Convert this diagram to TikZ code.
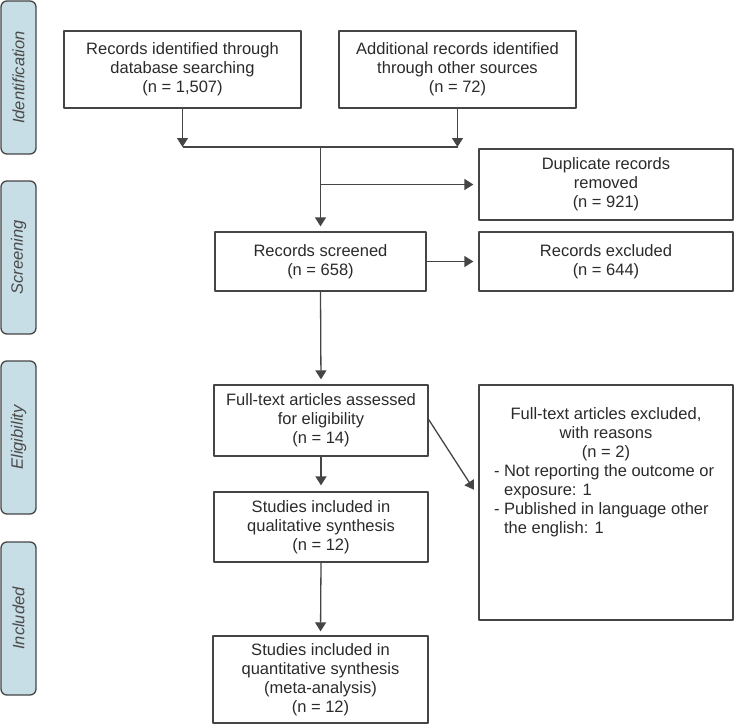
\documentclass[tikz,border=0pt]{standalone}
\usepackage{fontspec}
\setmainfont{Liberation Sans}
\usetikzlibrary{arrows.meta}
\definecolor{phasefill}{HTML}{C8DEE6}
\definecolor{linegray}{HTML}{454545}
\definecolor{txtgray}{HTML}{2A2A2A}
\begin{document}
\begin{tikzpicture}[x=1pt, y=-1pt, font=\fontsize{16.5}{19}\selectfont, line join=round, >={Triangle[length=9pt,width=11pt]},
  rec/.style={draw=linegray, line width=1.3pt, inner sep=0pt, align=center, text=txtgray},
  phase/.style={draw=linegray, line width=1.3pt, fill=phasefill, rounded corners=6pt, minimum width=153pt, minimum height=35pt, inner sep=0pt, rotate=90, font=\fontsize{16.5}{19}\selectfont\itshape, text=txtgray!85},
  link/.style={->, draw=linegray, line width=1.3pt}]
				\useasboundingbox (0,0) rectangle (734,725);
				% phases on the left
				\node (idph) [phase] at (18.5,77.5) {Identification};
				\node (scph) [phase] at (18.5,257.5) {Screening};
				\node (elph) [phase] at (18.5,437.5) {Eligibility};
				\node (inph) [phase] at (18.5,618.5) {Included};
				% boxes
				\node (dbrec) [rec, minimum width=237pt, minimum height=77pt] at (182.5,69.5) {Records identified through\\database searching\\(n = 1,507)};
				\node (otrec) [rec, minimum width=237pt, minimum height=77pt] at (457.5,69.5) {Additional records identified\\through other sources\\(n = 72)};
				\node (dup) [rec, minimum width=254pt, minimum height=71pt] at (606,184.5) {Duplicate records\\removed\\(n = 921)};
				\node (scr) [rec, minimum width=211pt, minimum height=59pt] at (320.5,261.5) {Records screened\\(n = 658)};
				\node (excl) [rec, minimum width=254pt, minimum height=59pt] at (606,261.5) {Records excluded\\(n = 644)};
				\node (full) [rec, minimum width=214pt, minimum height=71pt] at (321,420.5) {Full-text articles assessed\\for eligibility\\(n = 14)};
				\node (fexc) [rec, minimum width=254pt, minimum height=235pt] at (606,502.5) {\parbox[c][189pt][t]{254pt}{\centering Full-text articles excluded,\\with reasons\\(n = 2)\par
					\raggedright\hspace*{15pt}\begin{tabular}[t]{@{}l@{ }l@{}}-&Not reporting the outcome or\\&exposure: 1\\-&Published in language other\\&the english: 1\end{tabular}\par}};
				\node (qual) [rec, minimum width=214pt, minimum height=70pt] at (321,527) {Studies included in\\qualitative synthesis\\(n = 12)};
				\node (quan) [rec, minimum width=215pt, minimum height=87pt] at (320.5,679.5) {Studies included in\\quantitative synthesis\\(meta-analysis)\\(n = 12)};
				% connectors
				\coordinate (mrg) at (320.5,147);
				\draw [link] (dbrec.south) -- (dbrec.south |- mrg);
				\draw [link] (otrec.south) -- (otrec.south |- mrg);
				\draw [linegray, line width=1.3pt] (dbrec.south |- mrg) -- (otrec.south |- mrg);
				\draw [link, shorten >=5pt] (mrg) -- (scr.north);
				\draw [link, shorten >=5pt] (mrg |- dup.west) -- (dup.west);
				\draw [link, shorten >=5pt] (scr.east) -- (excl.west);
				\draw [link, shorten >=5pt] (scr.south) -- (full.north);
				\draw [link, shorten >=8pt] ([yshift=1pt]full.east) -- ([yshift=6pt]fexc.west);
				\draw [link, shorten >=6pt] (full.south) -- (qual.north);
				\draw [link, shorten >=4pt] (qual.south) -- (quan.north);
\end{tikzpicture}
\end{document}
